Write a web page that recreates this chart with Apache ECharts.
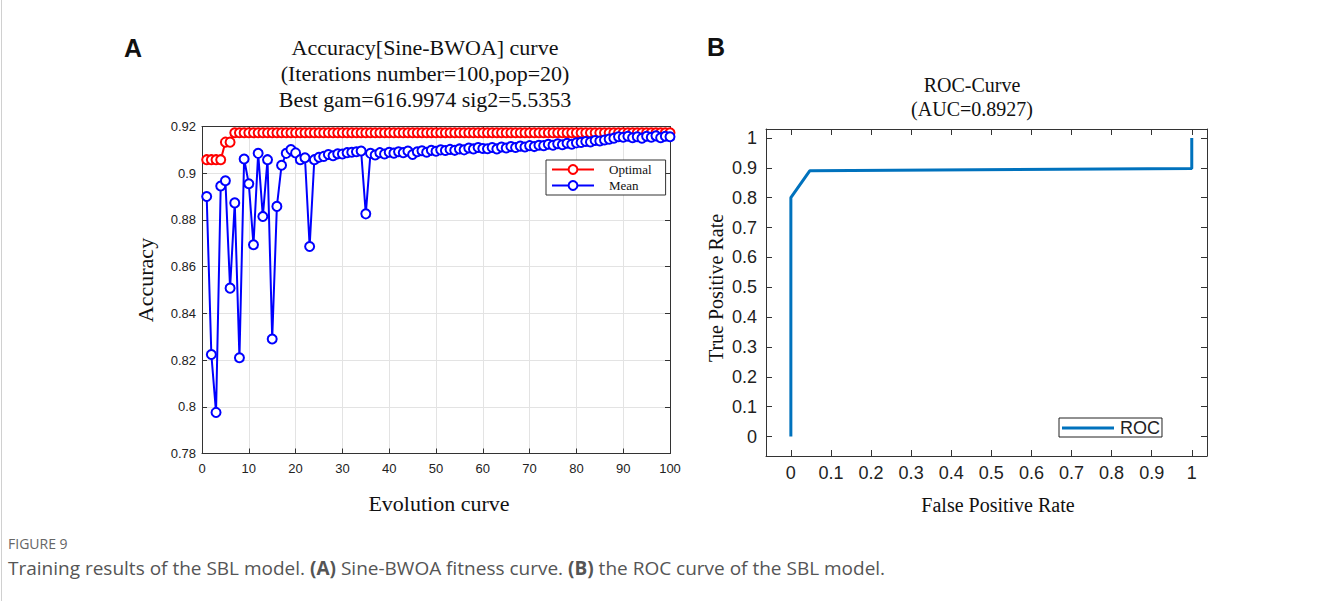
<!DOCTYPE html>
<html>
<head>
<meta charset="utf-8">
<script src="https://cdn.jsdelivr.net/npm/echarts@6/dist/echarts.min.js"></script>
<style>
html,body{margin:0;padding:0;background:#fff;}
#chart{width:1328px;height:601px;}
</style>
</head>
<body>
<div id="chart"></div>
<script>
// ---------- Panel A data ----------
const iterations = Array.from({length: 100}, (_, i) => i + 1);
const optimalAcc = [
  0.9058,0.9058,0.9058,0.9058,0.9133,0.9133,0.9173,0.9173,0.9173,0.9173,
  0.9173,0.9173,0.9173,0.9173,0.9173,0.9173,0.9173,0.9173,0.9173,0.9173,
  0.9173,0.9173,0.9173,0.9173,0.9173,0.9173,0.9173,0.9173,0.9173,0.9173,
  0.9173,0.9173,0.9173,0.9173,0.9173,0.9173,0.9173,0.9173,0.9173,0.9173,
  0.9173,0.9173,0.9173,0.9173,0.9173,0.9173,0.9173,0.9173,0.9173,0.9173,
  0.9173,0.9173,0.9173,0.9173,0.9173,0.9173,0.9173,0.9173,0.9173,0.9173,
  0.9173,0.9173,0.9173,0.9173,0.9173,0.9173,0.9173,0.9173,0.9173,0.9173,
  0.9173,0.9173,0.9173,0.9173,0.9173,0.9173,0.9173,0.9173,0.9173,0.9173,
  0.9173,0.9173,0.9173,0.9173,0.9173,0.9173,0.9173,0.9173,0.9173,0.9173,
  0.9173,0.9173,0.9173,0.9173,0.9173,0.9173,0.9173,0.9173,0.9173,0.9173
];
const meanAcc = [
  0.8900,0.8224,0.7976,0.8945,0.8968,0.8508,0.8873,0.8210,0.9061,0.8955,
  0.8694,0.9085,0.8815,0.9058,0.8290,0.8858,0.9034,0.9085,0.9101,0.9087,
  0.9058,0.9066,0.8686,0.9058,0.9068,0.9072,0.9080,0.9075,0.9083,0.9082,
  0.9088,0.9090,0.9092,0.9095,0.8826,0.9085,0.9078,0.9088,0.9082,0.9090,
  0.9086,0.9092,0.9088,0.9095,0.9080,0.9092,0.9096,0.9090,0.9098,0.9094,
  0.9100,0.9097,0.9102,0.9098,0.9104,0.9100,0.9108,0.9104,0.9110,0.9106,
  0.9105,0.9110,0.9104,0.9112,0.9108,0.9114,0.9110,0.9116,0.9112,0.9118,
  0.9114,0.9120,0.9118,0.9124,0.9120,0.9126,0.9122,0.9128,0.9124,0.9130,
  0.9132,0.9136,0.9134,0.9140,0.9138,0.9142,0.9146,0.9150,0.9156,0.9154,
  0.9158,0.9152,0.9156,0.9150,0.9158,0.9154,0.9160,0.9152,0.9158,0.9156
];
const xTicksA = [0,10,20,30,40,50,60,70,80,90,100];
const yTicksA = [0.78,0.80,0.82,0.84,0.86,0.88,0.90,0.92];

// ---------- Panel B data ----------
const rocFPR = [0, 0, 0.047, 1, 1];
const rocTPR = [0, 0.8, 0.890, 0.898, 1];
const ticksB = [0,0.1,0.2,0.3,0.4,0.5,0.6,0.7,0.8,0.9,1];

// ---------- Text ----------
const titleA = ['Accuracy[Sine-BWOA] curve', '(Iterations number=100,pop=20)', 'Best gam=616.9974 sig2=5.5353'];
const titleB = ['ROC-Curve', '(AUC=0.8927)'];

const serif = '"Liberation Serif","Times New Roman",serif';
const sans = '"Liberation Sans",Arial,sans-serif';
const fmt = v => String(+(+v).toFixed(2));

const chart = echarts.init(document.getElementById('chart'), null, {renderer: 'svg'});

const axisCommon = {
  axisLine: {show: true, onZero: false, lineStyle: {color: '#333', width: 1}},
  axisTick: {show: true, inside: true, length: 5, lineStyle: {color: '#333'}},
};

const option = {
  backgroundColor: '#fff',
  animation: false,
  grid: [
    {left: 202, top: 126.5, width: 468, height: 327},
    {left: 766, top: 129, width: 441, height: 327}
  ],
  legend: [
    {
      data: ['Optimal', 'Mean'],
      orient: 'vertical',
      left: 546, top: 160,
      itemWidth: 42, itemHeight: 11, itemGap: 3,
      padding: [3, 14, 3, 5],
      borderColor: '#333', borderWidth: 1, backgroundColor: '#fff',
      textStyle: {fontFamily: serif, fontSize: 13, color: '#111', padding: [0, 0, 0, 10]}
    },
    {
      data: [{name: 'ROC', icon: 'rect'}],
      left: 1059, top: 418,
      itemWidth: 52, itemHeight: 3,
      padding: [1, 2, 0, 3],
      borderColor: '#222', borderWidth: 1, backgroundColor: '#fff',
      textStyle: {fontFamily: sans, fontSize: 18, color: '#222', padding: [0, 0, 0, 1]}
    }
  ],
  xAxis: [
    Object.assign({}, axisCommon, {
      gridIndex: 0, type: 'value', min: xTicksA[0], max: xTicksA[xTicksA.length - 1], interval: 10,
      axisLabel: {fontFamily: sans, fontSize: 13, color: '#222', margin: 8},
      splitLine: {show: true, lineStyle: {color: '#e3e3e3', width: 1}}
    }),
    Object.assign({}, axisCommon, {
      gridIndex: 0, type: 'value', position: 'top', min: 0, max: 100, interval: 10,
      axisLabel: {show: false}, splitLine: {show: false}
    }),
    Object.assign({}, axisCommon, {
      gridIndex: 1, type: 'value', min: -0.062, max: 1.038,
      axisTick: {show: true, inside: true, length: 6, lineStyle: {color: '#333'}, customValues: ticksB},
      axisLabel: {fontFamily: sans, fontSize: 18, color: '#222', margin: 8, customValues: ticksB, formatter: fmt},
      splitLine: {show: false}
    }),
    Object.assign({}, axisCommon, {
      gridIndex: 1, type: 'value', position: 'top', min: -0.062, max: 1.038,
      axisTick: {show: true, inside: true, length: 6, lineStyle: {color: '#333'}, customValues: ticksB},
      axisLabel: {show: false}, splitLine: {show: false}
    })
  ],
  yAxis: [
    Object.assign({}, axisCommon, {
      gridIndex: 0, type: 'value', min: yTicksA[0], max: yTicksA[yTicksA.length - 1], interval: 0.02,
      axisLabel: {fontFamily: sans, fontSize: 13, color: '#222', margin: 6, formatter: fmt},
      splitLine: {show: true, lineStyle: {color: '#e3e3e3', width: 1}}
    }),
    Object.assign({}, axisCommon, {
      gridIndex: 0, type: 'value', position: 'right', min: 0.78, max: 0.92, interval: 0.02,
      axisLabel: {show: false}, splitLine: {show: false}
    }),
    Object.assign({}, axisCommon, {
      gridIndex: 1, type: 'value', min: -0.065, max: 1.03,
      axisTick: {show: true, inside: true, length: 6, lineStyle: {color: '#333'}, customValues: ticksB},
      axisLabel: {fontFamily: sans, fontSize: 18, color: '#222', margin: 9, customValues: ticksB, formatter: fmt},
      splitLine: {show: false}
    }),
    Object.assign({}, axisCommon, {
      gridIndex: 1, type: 'value', position: 'right', min: -0.065, max: 1.03,
      axisTick: {show: true, inside: true, length: 6, lineStyle: {color: '#333'}, customValues: ticksB},
      axisLabel: {show: false}, splitLine: {show: false}
    })
  ],
  series: [
    {
      name: 'Optimal', type: 'line', xAxisIndex: 0, yAxisIndex: 0,
      data: iterations.map((x, i) => [x, optimalAcc[i]]),
      symbol: 'emptyCircle', symbolSize: 9, showAllSymbol: true,
      lineStyle: {color: '#ff0000', width: 2},
      itemStyle: {color: '#ff0000', borderColor: '#ff0000', borderWidth: 2},
      z: 2
    },
    {
      name: 'Mean', type: 'line', xAxisIndex: 0, yAxisIndex: 0,
      data: iterations.map((x, i) => [x, meanAcc[i]]),
      symbol: 'emptyCircle', symbolSize: 9, showAllSymbol: true,
      lineStyle: {color: '#0000ff', width: 2},
      itemStyle: {color: '#0000ff', borderColor: '#0000ff', borderWidth: 2},
      z: 3
    },
    {
      name: 'ROC', type: 'line', xAxisIndex: 2, yAxisIndex: 2,
      data: rocFPR.map((x, i) => [x, rocTPR[i]]),
      symbol: 'none',
      lineStyle: {color: '#0072BD', width: 3},
      itemStyle: {color: '#0072BD'}
    }
  ],
  graphic: [
    // frame line on the left edge
    {type: 'line', shape: {x1: 1.5, y1: 0, x2: 1.5, y2: 601}, style: {stroke: '#d0d0d0', lineWidth: 1}},
    // panel letters
    {type: 'text', style: {x: 124, y: 48, text: 'A', font: 'bold 25px ' + sans, fill: '#111', textVerticalAlign: 'middle'}},
    {type: 'text', style: {x: 707, y: 47, text: 'B', font: 'bold 25px ' + sans, fill: '#111', textVerticalAlign: 'middle'}},
    // panel A title
    {type: 'text', style: {x: 425, y: 47, text: titleA[0], font: '22px ' + serif, fill: '#111', textAlign: 'center', textVerticalAlign: 'middle'}},
    {type: 'text', style: {x: 425, y: 73, text: titleA[1], font: '22px ' + serif, fill: '#111', textAlign: 'center', textVerticalAlign: 'middle'}},
    {type: 'text', style: {x: 425, y: 99, text: titleA[2], font: '22px ' + serif, fill: '#111', textAlign: 'center', textVerticalAlign: 'middle'}},
    // panel A axis names
    {type: 'text', x: 145, y: 280, rotation: Math.PI / 2,
     style: {x: 0, y: 0, text: 'Accuracy', font: '22px ' + serif, fill: '#111', textAlign: 'center', textVerticalAlign: 'middle'}},
    {type: 'text', style: {x: 439, y: 503, text: 'Evolution curve', font: '22px ' + serif, fill: '#111', textAlign: 'center', textVerticalAlign: 'middle'}},
    // panel B title
    {type: 'text', style: {x: 972, y: 85, text: titleB[0], font: '20px ' + serif, fill: '#111', textAlign: 'center', textVerticalAlign: 'middle'}},
    {type: 'text', style: {x: 972, y: 109, text: titleB[1], font: '20px ' + serif, fill: '#111', textAlign: 'center', textVerticalAlign: 'middle'}},
    // panel B axis names
    {type: 'text', x: 716, y: 288, rotation: Math.PI / 2,
     style: {x: 0, y: 0, text: 'True Positive Rate', font: '20px ' + serif, fill: '#111', textAlign: 'center', textVerticalAlign: 'middle'}},
    {type: 'text', style: {x: 998, y: 505, text: 'False Positive Rate', font: '20px ' + serif, fill: '#111', textAlign: 'center', textVerticalAlign: 'middle'}},
    // caption
    {type: 'text', style: {x: 8, y: 543, text: 'FIGURE 9', font: '14px "Open Sans",' + sans, fill: '#666', textVerticalAlign: 'middle'}},
    {type: 'text', style: {
      x: 8, y: 568, textVerticalAlign: 'middle',
      text: 'Training results of the SBL model. {b|(A)} Sine-BWOA fitness curve. {b|(B)} the ROC curve of the SBL model.',
      font: '19px "Open Sans",' + sans, fill: '#555',
      rich: {b: {fontWeight: 'bold', fontSize: 19, fontFamily: '"Open Sans",' + sans, fill: '#555', color: '#555'}}
    }}
  ]
};
chart.setOption(option);
</script>
</body>
</html>
